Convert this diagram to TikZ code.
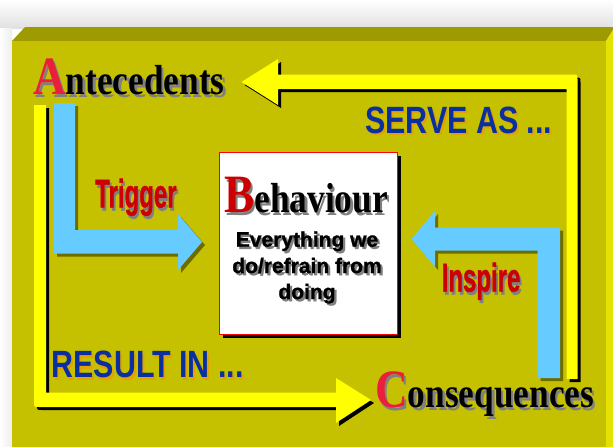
\documentclass[tikz,border=0pt]{standalone}
\usepackage{fontspec}
\setmainfont{Liberation Serif}
\setsansfont{Liberation Sans}
\newfontfamily\heavysans{Liberation Sans Bold}[FakeBold=1.2]

\definecolor{faceolive}{RGB}{197,193,0}
\definecolor{topolive}{RGB}{158,155,0}
\definecolor{sideolive}{RGB}{228,226,0}
\definecolor{loopyellow}{RGB}{255,255,0}
\definecolor{skyblue}{RGB}{102,204,255}
\definecolor{blueshade}{RGB}{110,108,0}
\definecolor{capred}{RGB}{235,30,60}
\definecolor{bred}{RGB}{204,0,0}
\definecolor{navy}{RGB}{10,48,160}
\definecolor{amber}{RGB}{226,162,0}
\definecolor{txtshade}{RGB}{128,128,128}

% text with a soft offset copy behind it
\newcommand{\shadowed}[3][txtshade]{%
  \leavevmode\rlap{\kern#2\raisebox{-#2}{\color{#1}#3}}#3}
% word with an enlarged coloured initial, plus its shadow
\newcommand{\initialword}[5]{%
  \leavevmode\rlap{\kern3pt\raisebox{-3pt}{\color{txtshade}%
    \fontsize{#2}{#2}\selectfont#3\fontsize{#4}{#4}\selectfont#5}}%
  {\color{#1}\fontsize{#2}{#2}\selectfont#3}{\fontsize{#4}{#4}\selectfont#5}}

% block-arrow outlines
\newcommand{\servePath}{(241.5,82) -- (278,59) -- (278,74.5) -- (572.5,74.5)
  .. controls (577.5,74.5) .. (577.5,79.5) -- (577.5,379) -- (566.5,379)
  -- (566.5,89) -- (278,89) -- (278,105) -- cycle}
\newcommand{\resultPath}{(34,105) -- (46,105) -- (46,392.5) -- (336,392.5)
  -- (336,378) -- (371,400) -- (336,423) -- (336,407) -- (39,407)
  .. controls (34,407) .. (34,402) -- cycle}
\newcommand{\triggerPath}{(54,103) -- (75,103) -- (75,230) -- (178,230)
  -- (178,214) -- (202,242) -- (178,270) -- (178,253.5) -- (54,253.5) -- cycle}
\newcommand{\inspirePath}{(411.5,239) -- (435,211) -- (435,227.5) -- (560,227.5)
  -- (560,378) -- (537.5,378) -- (537.5,250.5) -- (435,250.5) -- (435,267) -- cycle}

\begin{document}
\begin{tikzpicture}[x=1pt,y=-1pt,
  lbl/.style={inner sep=0pt, anchor=base west},
  ctr/.style={inner sep=0pt, anchor=base},
  serif/.style={font=\bfseries},
  sans/.style={font=\sffamily\bfseries\fontsize{#1}{#1}\selectfont},
  heavy/.style={font=\heavysans\fontsize{#1}{#1}\selectfont},
  loopshadow/.style={fill=black, shift={(3,3)}},
  blueshadow/.style={fill=blueshade, shift={(3,3)}}]
\useasboundingbox (0,0) rectangle (613,447);

% backdrop haze
\shade[top color=white, bottom color=black!12] (0,0) rectangle (613,28);
\shade[left color=white, right color=black!7] (0,28) rectangle (12,447);

% the raised panel
\fill[topolive] (12,41) -- (25,27) -- (613,27) -- (613,30) -- (606,41) -- cycle;
\fill[sideolive] (606,41) -- (613,30) -- (613,447) -- (606,447) -- cycle;
\fill[faceolive] (12,41) rectangle (606,447);

% yellow loop
\fill[loopshadow] \servePath;
\fill[loopshadow] \resultPath;
\fill[loopyellow] \servePath;
\fill[loopyellow] \resultPath;

% blue arrows
\fill[blueshadow] \triggerPath;
\fill[blueshadow] \inspirePath;
\fill[skyblue] \triggerPath;
\fill[skyblue] \inspirePath;

% behaviour card
\fill[black] (223,155.5) rectangle (401,338);
\node[draw=red, fill=white, line width=0.8pt, inner sep=0pt,
      minimum width=178pt, minimum height=182.5pt, anchor=north west]
      (card) at (219,151.5) {};

% labels
\node[lbl, serif] (ante) at (33,94)
  {\scalebox{0.84}[1]{\initialword{capred}{54pt}{A}{42pt}{ntecedents}}};
\node[lbl, serif] (beh) at (224,212.7)
  {\scalebox{0.84}[1]{\initialword{bred}{54pt}{B}{42pt}{ehaviour}}};
\node[lbl, serif] (cons) at (375,407.3)
  {\scalebox{0.84}[1]{\initialword{capred}{54pt}{C}{42pt}{onsequences}}};

\node[ctr, heavy=21pt] (desc1) at (307,246.7) {\shadowed{2.2pt}{Everything we}};
\node[ctr, heavy=21pt] (desc2) at (307,273) {\shadowed{2.2pt}{do/refrain from}};
\node[ctr, heavy=21pt] (desc3) at (307,299) {\shadowed{2.2pt}{doing}};

\node[lbl, heavy=40pt, text=bred] (trig) at (95,207.5)
  {\scalebox{0.6}[1]{\shadowed{3pt}{Trigger}}};
\node[lbl, heavy=40pt, text=bred] (insp) at (441.5,291.5)
  {\scalebox{0.6}[1]{\shadowed{3pt}{Inspire}}};

\node[lbl, sans=38pt, text=navy] (serve) at (365,133.3)
  {\scalebox{0.8}[1]{\shadowed[amber]{2.5pt}{SERVE AS ...}}};
\node[lbl, sans=38pt, text=navy] (result) at (51.5,377.7)
  {\scalebox{0.8}[1]{\shadowed[amber]{2.5pt}{RESULT IN ...}}};
\end{tikzpicture}
\end{document}
